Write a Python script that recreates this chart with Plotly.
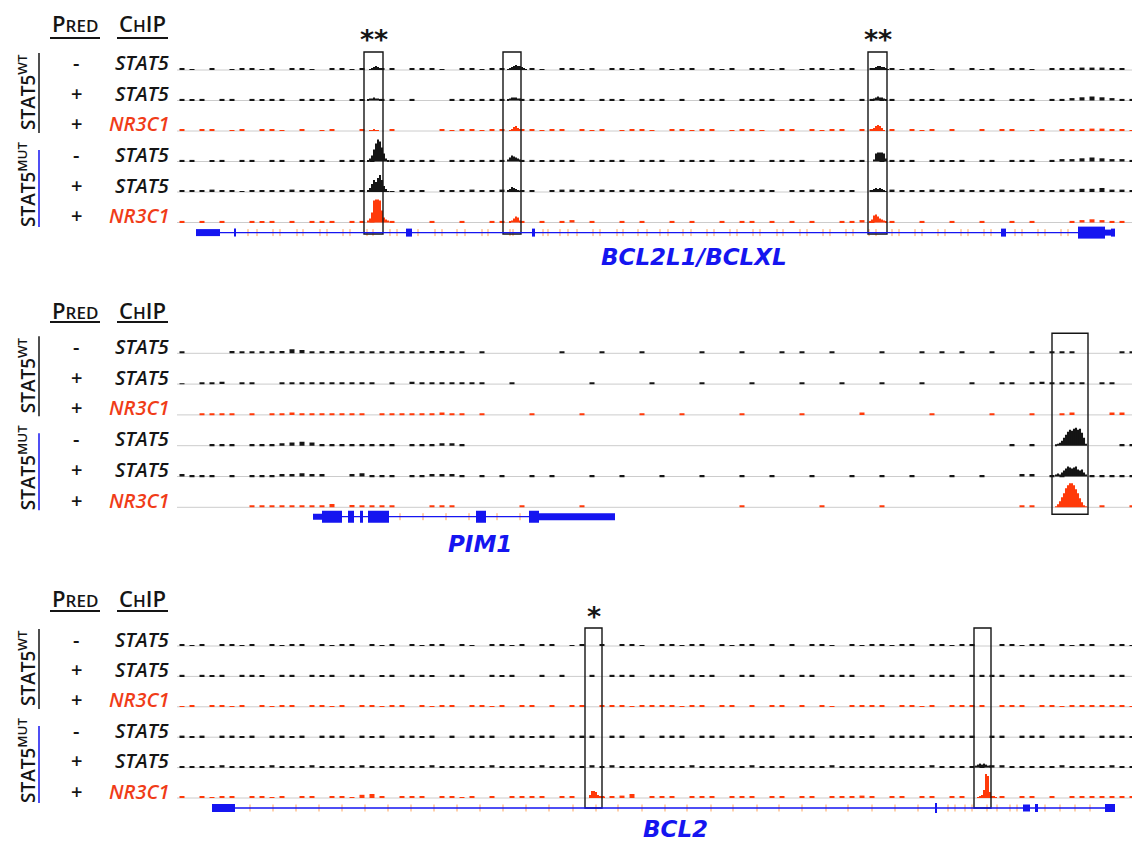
import plotly.graph_objects as go

W, H = 1140, 847

# ---------------- data ----------------
pred_labels = ["-", "+", "+", "-", "+", "+"]
chip_labels = ["STAT5", "STAT5", "NR3C1", "STAT5", "STAT5", "NR3C1"]
gene_names = ["BCL2L1/BCLXL", "PIM1", "BCL2"]
BIN = 10  # background bin size (genomic units)

# ---- Panel 1: BCL2L1 background signal (96 bins) ----
p1_bg = [
    [2,1,0,2,0,1,2,2,1,2,0,2, 2,1,0,2,2,1,2,0,2,2,0,2, 2,2,1,0,2,2,1,2,2,0,2,2, 1,0,2,2,1,2,0,2,2,1,2,0,
     2,1,2,2,0,2,1,2,0,2,2,1, 2,0,1,2,2,1,2,2,0,2,0,2, 1,2,2,1,0,2,0,2,1,2,0,2, 2,1,0,2,2,2,3,3,3,2,2,0],
    [2,1,2,0,2,2,0,2,1,2,2,0, 2,2,1,2,0,2,1,0,2,2,0,2, 0,0,0,2,2,1,2,2,2,0,2,2, 2,1,2,2,2,0,2,2,1,0,2,2,
     2,0,2,0,1,2,2,0,2,1,2,2, 0,2,1,2,0,2,2,0,2,2,1,2, 0,2,1,2,2,0,2,1,2,2,0,2, 1,2,0,2,2,3,4,5,4,3,2,2],
    [2,0,2,2,0,1,2,0,2,2,1,0, 2,0,1,2,0,0,2,1,0,2,0,0, 0,0,2,1,2,2,1,2,2,0,2,2, 1,2,2,0,2,1,2,0,1,2,2,1,
     0,2,2,1,2,2,0,1,2,2,1,0, 2,2,0,2,1,2,2,0,2,2,1,2, 0,2,1,2,0,2,0,0,2,0,2,2, 0,1,2,0,2,2,2,3,3,2,2,1],
    [2,2,0,1,2,0,2,2,0,2,2,0, 2,2,2,0,2,2,1,2,0,2,2,1, 2,2,0,2,2,1,2,2,2,0,2,2, 1,2,2,2,0,2,1,2,2,0,2,2,
     2,0,2,2,1,2,0,2,2,2,0,2, 2,1,2,0,2,2,2,1,2,0,2,2, 2,2,0,2,2,1,2,0,2,2,0,2, 2,2,0,2,3,3,4,5,4,3,3,2],
    [2,2,2,3,2,2,1,2,2,2,2,3, 2,2,3,2,2,2,2,3,2,1,2,2, 2,0,2,2,2,3,2,2,3,2,2,2, 0,2,3,3,2,2,3,2,2,3,2,2,
     2,3,2,2,2,2,2,3,2,2,3,2, 0,2,2,3,2,2,2,2,0,2,2,3, 2,2,2,3,2,2,3,2,2,2,3,2, 2,3,2,2,3,3,4,4,5,3,3,2],
    [2,0,2,0,2,0,0,2,1,2,0,2, 0,2,2,2,0,2,2,3,0,2,0,0, 0,2,0,0,2,0,0,2,2,0,2,0, 2,0,2,3,0,2,0,0,2,0,2,0,
     0,2,0,2,0,0,2,0,2,2,0,2, 0,2,0,2,0,0,2,2,3,2,0,2, 0,0,2,0,0,2,0,0,2,0,0,2, 0,2,0,0,0,2,3,4,3,2,2,0],
]
# peaks: (track, start position, heights in 2-unit steps)
p1_peaks = [
    (0, 192, [1,2,3,4,3,2,1]),
    (1, 190, [1,2,2,3,2,2,1,1]),
    (2, 192, [1,1,2,1,1]),
    (3, 190, [1,3,6,12,18,22,20,14,8,3,1]),
    (4, 190, [2,4,8,12,10,14,17,12,6,3,1]),
    (5, 190, [2,4,10,22,23,23,22,12,5,3,2]),
    (0, 330, [1,2,3,4,5,4,4,3,2,1]),
    (1, 330, [1,2,3,3,3,2,2,1]),
    (2, 332, [1,2,4,5,3,2,1]),
    (3, 330, [2,4,6,5,4,3,2,1]),
    (4, 330, [2,3,5,4,3,2,1]),
    (5, 332, [1,2,4,6,5,2,1]),
    (0, 694, [1,2,3,4,4,3,3,2,1]),
    (1, 694, [1,2,3,4,3,3,2,1]),
    (2, 694, [1,3,5,6,5,3,1]),
    (3, 696, [2,8,9,9,9,8,3]),
    (4, 694, [1,3,4,3,4,3,2,1]),
    (5, 692, [1,3,7,8,6,4,3,2,1]),
]
p1_boxes = [(187, 206), (326, 344), (691, 710)]
p1_box_y = (18, -164)
p1_stars = [(0, "**"), (2, "**")]
# gene model: (start, end, height)
p1_exons = [(19, 43, 7), (57, 59, 8), (229, 235, 8), (355, 358, 8), (824, 829, 8),
            (901, 928, 12), (928, 934, 6), (934, 938, 8)]
p1_intron = (19, 938)
p1_ticks = [71, 80, 96, 103, 120, 126, 143, 150, 166, 173, 190, 196, 213, 220, 241, 258, 265,
            280, 288, 305, 311, 333, 336, 366, 371, 383, 391, 400, 416, 423, 440, 446, 461, 470,
            483, 491, 506, 514, 530, 537, 553, 560, 576, 583, 600, 606, 623, 630, 646, 653, 669,
            676, 692, 699, 715, 722, 738, 745, 761, 768, 784, 791, 807, 814, 838, 845, 861, 868,
            884, 891]

# ---- Panel 2: PIM1 ----
p2_bg = [
    [2,0,0,0,0,3,2,2,2,2,3,5, 4,2,2,3,2,2,2,2,2,2,2,2, 2,3,3,2,2,0,2,0,0,0,0,0, 0,0,2,0,0,0,2,0,0,0,2,0,
     0,0,0,0,2,0,0,0,2,0,0,0, 2,0,2,0,0,2,0,0,0,0,2,0, 0,0,2,0,2,0,2,0,0,2,0,0, 0,2,0,2,2,2,0,0,0,0,2,2],
    [1,0,2,2,3,0,2,2,0,0,2,2, 2,2,2,2,2,2,2,2,0,2,0,3, 2,2,2,2,2,2,2,0,0,2,0,0, 0,0,0,0,0,2,0,0,0,0,0,2,
     0,0,0,0,2,0,0,0,0,2,0,0, 0,0,2,0,0,0,2,0,0,0,2,0, 0,0,2,0,0,0,0,2,0,0,2,2, 0,2,3,2,2,2,2,0,2,2,0,0],
    [0,0,2,2,2,2,0,2,0,2,2,3, 2,2,2,2,2,2,2,0,2,2,2,2, 2,2,3,2,2,0,2,0,0,0,0,2, 0,0,0,0,2,0,0,0,0,0,2,0,
     0,0,2,0,0,0,0,0,2,0,0,0, 0,0,2,0,0,0,0,0,3,0,0,0, 0,0,0,2,0,0,0,0,0,2,0,0, 0,2,0,0,2,3,0,0,0,3,3,0],
    [0,0,0,2,2,2,0,2,2,2,3,4, 5,4,2,2,2,2,2,2,2,2,0,2, 2,2,3,3,2,0,0,0,0,0,0,0, 0,0,0,0,0,0,0,0,0,0,0,0,
     0,0,0,0,0,0,0,0,0,0,0,0, 0,0,0,0,0,0,0,0,0,0,0,0, 0,0,0,0,0,0,0,0,0,0,0,2, 0,2,0,0,0,0,0,0,0,0,2,2],
    [3,2,2,2,0,2,0,2,2,2,3,3, 4,3,3,0,0,3,4,2,2,2,0,2, 2,3,3,3,2,0,2,0,2,0,0,2, 0,2,0,0,0,2,0,0,2,0,0,0,
     2,0,0,0,2,0,0,0,2,0,0,2, 0,0,0,2,0,0,0,2,0,0,2,0, 0,2,0,0,0,2,0,0,2,0,0,0, 3,3,0,2,2,0,0,2,2,2,2,2],
    [0,0,0,0,0,0,0,2,2,2,2,2, 2,2,2,4,0,3,2,2,2,2,0,0, 0,2,2,2,0,0,0,0,0,0,2,0, 0,0,0,0,2,0,0,0,0,0,0,0,
     0,0,0,0,0,0,0,0,2,0,0,0, 0,0,0,0,2,0,0,0,0,0,2,0, 0,0,0,0,0,0,0,0,0,0,0,0, 2,2,0,0,0,0,0,0,2,0,0,2],
]
p2_peaks = [
    (3, 878, [1,2,3,5,8,11,14,16,15,17,18,16,17,13,8,2]),
    (4, 878, [2,3,2,4,6,8,10,9,8,9,10,7,6,7,4,2]),
    (5, 878, [1,3,6,10,14,19,22,24,24,22,18,14,9,5,2,1]),
]
p2_boxes = [(875, 911)]
p2_box_y = (20, -161)
p2_stars = []
p2_exons = [(136, 145, 6), (145, 165, 12), (171, 177, 12), (183, 186, 12), (191, 212, 12),
            (299, 309, 12), (352, 362, 12), (362, 438, 7)]
p2_intron = (136, 438)
p2_ticks = [223, 246, 269, 292, 320, 343]

# ---- Panel 3: BCL2 ----
p3_bg = [
    [2,1,2,0,2,2,1,2,0,2,1,2, 2,0,2,1,2,2,0,2,1,2,0,2, 1,2,2,0,2,1,0,2,2,1,2,0, 2,2,0,1,2,0,2,0,2,2,1,0,
     2,2,1,2,2,0,2,1,2,2,0,2, 0,2,0,2,2,1,0,2,1,2,2,1, 2,2,0,2,2,1,2,2,0,0,2,2, 1,2,2,0,2,1,2,2,0,2,2,1],
    [2,0,2,1,2,0,2,2,1,0,2,2, 0,2,1,2,0,2,2,0,1,2,0,2, 2,1,0,2,2,0,0,2,1,2,0,0, 2,0,2,0,0,2,0,2,2,2,0,2,
     2,2,0,2,1,2,0,0,2,2,0,0, 2,0,2,2,0,0,2,2,0,0,2,2, 2,2,0,2,2,2,0,2,2,2,2,0, 2,2,0,2,2,1,2,2,0,2,2,0],
    [1,2,0,2,2,1,2,0,2,1,2,2, 0,2,2,1,2,0,2,2,1,2,2,0, 2,1,2,2,0,2,2,1,2,0,2,2, 0,2,0,2,2,0,2,2,2,1,2,2,
     2,2,1,2,2,0,2,2,0,2,0,2, 2,0,2,0,2,1,0,2,2,2,2,0, 2,2,1,2,0,2,2,2,2,0,2,2, 2,0,2,2,1,2,2,2,2,2,2,1],
    [2,1,2,0,2,2,1,2,0,2,2,1, 2,0,2,2,2,0,2,1,2,0,2,2, 1,2,0,2,0,2,2,2,0,2,2,1, 2,2,0,2,2,2,0,2,2,0,2,0,
     2,2,2,0,2,2,2,0,2,2,2,2, 0,2,2,2,0,2,2,2,1,2,0,2, 2,2,2,0,2,2,2,2,0,2,2,0, 2,2,2,0,2,2,2,0,2,2,2,1],
    [2,2,2,2,3,2,2,2,2,3,2,2, 2,3,2,2,2,2,3,2,2,2,2,2, 2,3,2,2,2,2,2,3,2,2,2,2, 3,2,2,2,2,3,2,3,2,2,2,2,
     2,2,2,3,2,2,2,2,2,3,2,2, 2,2,2,2,2,3,2,2,2,2,2,2, 2,2,2,3,2,2,2,2,2,3,3,2, 2,2,2,2,3,2,2,2,2,3,2,2],
    [2,0,2,1,2,2,0,2,2,1,2,0, 2,2,0,2,2,1,4,5,2,0,2,2, 2,0,2,2,1,2,0,2,0,2,2,2, 2,0,2,2,0,0,2,2,3,5,0,2,
     2,2,0,2,2,2,0,2,2,2,0,2, 2,0,2,2,0,2,2,2,3,2,0,2, 2,0,2,2,0,2,2,0,2,2,2,0, 2,2,0,2,0,2,2,2,2,2,2,2],
]
p3_peaks = [
    (5, 412, [3,7,7,6,3,2,2,1]),
    (5, 800, [1,2,3,8,24,22,6,2,2,1]),
    (4, 798, [2,3,4,3,4,3,2,2]),
]
p3_boxes = [(408, 425), (797, 814)]
p3_box_y = (18, -162)
p3_stars = [(0, "*")]
p3_exons = [(35, 58, 8), (758, 760, 10), (846, 853, 7), (858, 861, 8), (928, 938, 8)]
p3_intron = (35, 938)
p3_ticks = [73, 96, 119, 142, 165, 188, 211, 234, 257, 280, 303, 326, 349, 372, 396, 419, 441,
            465, 488, 510, 534, 556, 580, 602, 625, 649, 671, 695, 718, 741, 771, 778, 788, 795,
            810, 820, 833, 840, 868, 883, 898, 913]

# ---------------- style / layout ----------------
BLACK = "#151515"
RED = "#ff3a0a"
RED_TXT = "#f03c18"
BLUE = "#1515f0"
GRAY = "#cccccc"
X0_PX, X1_PX, XMAX = 177, 1132, 955
TOP, BOT = 36, 200
BG_SCALE = 0.8
track_colors = [BLACK, BLACK, RED, BLACK, BLACK, RED]

panels = [
    dict(bg=p1_bg, peaks=p1_peaks, boxes=p1_boxes, box_y=p1_box_y, stars=p1_stars,
         exons=p1_exons, intron=p1_intron, ticks=p1_ticks, base=70.0, sp=30.5, gene_off=162.6,
         head=23, uline=38, label_xy=(517, -187)),
    dict(bg=p2_bg, peaks=p2_peaks, boxes=p2_boxes, box_y=p2_box_y, stars=p2_stars,
         exons=p2_exons, intron=p2_intron, ticks=p2_ticks, base=353.3, sp=30.8, gene_off=163.4,
         head=310, uline=322, label_xy=(303, -191)),
    dict(bg=p3_bg, peaks=p3_peaks, boxes=p3_boxes, box_y=p3_box_y, stars=p3_stars,
         exons=p3_exons, intron=p3_intron, ticks=p3_ticks, base=646.0, sp=30.4, gene_off=162.0,
         head=598, uline=611, label_xy=(498, -183)),
]


def pxx(px):
    return px / W


def pxy(py):
    return 1 - py / H


fig = go.Figure()
shapes = []
annotations = []
layout_axes = {}

TXT = dict(family="Open Sans", color=BLACK)


def pann(x, y, text, font, **kw):
    d = dict(xref="paper", yref="paper", x=pxx(x), y=pxy(y), text=text, showarrow=False,
             xanchor="center", yanchor="middle", font=font)
    d.update(kw)
    annotations.append(d)


for k, P in enumerate(panels):
    sfx = "" if k == 0 else str(k + 1)
    xa, ya = "x" + sfx, "y" + sfx
    base, sp = P["base"], P["sp"]
    layout_axes["xaxis" + sfx] = dict(domain=[pxx(X0_PX), pxx(X1_PX)], range=[0, XMAX],
                                      visible=False, fixedrange=True, anchor=ya)
    layout_axes["yaxis" + sfx] = dict(domain=[pxy(base + BOT), pxy(base - TOP)], range=[-BOT, TOP],
                                      visible=False, fixedrange=True, anchor=xa)
    # baselines
    for i in range(6):
        shapes.append(dict(type="line", xref=xa, yref=ya, x0=0, x1=XMAX, y0=-i * sp, y1=-i * sp,
                           line=dict(color=GRAY, width=1), layer="below"))
    # background signal
    for i, vals in enumerate(P["bg"]):
        xs = [BIN * j + BIN / 2 for j in range(len(vals))]
        fig.add_trace(go.Bar(x=xs, y=[v * BG_SCALE for v in vals], base=-i * sp, width=5, xaxis=xa, yaxis=ya,
                             marker=dict(color=track_colors[i], line=dict(width=0)),
                             showlegend=False, hoverinfo="skip"))
    # peaks
    for (ti, start, hts) in P["peaks"]:
        xs = [start + 2 * j + 1 for j in range(len(hts))]
        fig.add_trace(go.Bar(x=xs, y=hts, base=-ti * sp, width=2.05, xaxis=xa, yaxis=ya,
                             marker=dict(color=track_colors[ti], line=dict(width=0)),
                             showlegend=False, hoverinfo="skip"))
    # boxes
    for (b0, b1) in P["boxes"]:
        shapes.append(dict(type="rect", xref=xa, yref=ya, x0=b0, x1=b1,
                           y0=P["box_y"][1], y1=P["box_y"][0],
                           line=dict(color=BLACK, width=1.4), fillcolor="rgba(0,0,0,0)"))
    for (bi, txt) in P["stars"]:
        b0, b1 = P["boxes"][bi]
        annotations.append(dict(xref=xa, yref=ya, x=(b0 + b1) / 2, y=P["box_y"][0] + 12,
                                text="<b>" + txt + "</b>", showarrow=False,
                                xanchor="center", yanchor="middle",
                                font=dict(family="DejaVu Sans", size=27, color=BLACK)))
    # gene model
    g = -P["gene_off"]
    shapes.append(dict(type="line", xref=xa, yref=ya, x0=P["intron"][0], x1=P["intron"][1],
                       y0=g, y1=g, line=dict(color=BLUE, width=1.3)))
    for (e0, e1, h) in P["exons"]:
        shapes.append(dict(type="rect", xref=xa, yref=ya, x0=e0, x1=e1, y0=g - h / 2, y1=g + h / 2,
                           fillcolor=BLUE, line=dict(width=0)))
    fig.add_trace(go.Scatter(x=P["ticks"], y=[g] * len(P["ticks"]), mode="markers", xaxis=xa, yaxis=ya,
                             marker=dict(symbol="line-ns-open", size=5, line=dict(color=BLUE, width=1)),
                             showlegend=False, hoverinfo="skip"))
    annotations.append(dict(xref=xa, yref=ya, x=P["label_xy"][0], y=P["label_xy"][1],
                            text=gene_names[k], showarrow=False, xanchor="center", yanchor="middle",
                            font=dict(family="DejaVu Sans", size=23, color=BLUE, style="italic",
                                      weight="bold")))

    # left-side labels
    pann(75, P["head"], "P<span style='font-size:17px'>RED</span>", dict(TXT, size=22, weight=600))
    pann(142, P["head"], "C<span style='font-size:17px'>H</span>IP", dict(TXT, size=22, weight=600))
    shapes.append(dict(type="line", xref="paper", yref="paper", x0=pxx(50), x1=pxx(100),
                       y0=pxy(P["uline"]), y1=pxy(P["uline"]), line=dict(color=BLACK, width=2)))
    shapes.append(dict(type="line", xref="paper", yref="paper", x0=pxx(117), x1=pxx(168),
                       y0=pxy(P["uline"]), y1=pxy(P["uline"]), line=dict(color=BLACK, width=2)))
    for i in range(6):
        yy = base + i * sp - 7
        pann(76, yy, pred_labels[i], dict(TXT, size=20, weight=600))
        col = RED_TXT if chip_labels[i] == "NR3C1" else BLACK
        pann(171, yy, chip_labels[i],
             dict(family="Open Sans", size=20, color=col, style="italic", weight=600), xanchor="right")
    # genotype labels
    pann(27, base + 22, "STAT5<sup>WT</sup>", dict(TXT, size=19, weight=600), textangle=-90)
    pann(27, base + 115, "STAT5<sup>MUT</sup>", dict(TXT, size=19, weight=600), textangle=-90)
    shapes.append(dict(type="line", xref="paper", yref="paper", x0=pxx(39), x1=pxx(39),
                       y0=pxy(base - 17), y1=pxy(base + 63), line=dict(color=BLACK, width=1.5)))
    shapes.append(dict(type="line", xref="paper", yref="paper", x0=pxx(39), x1=pxx(39),
                       y0=pxy(base + 80), y1=pxy(base + 157), line=dict(color=BLUE, width=1.5)))

fig.update_layout(width=W, height=H, margin=dict(l=0, r=0, t=0, b=0), barmode="overlay",
                  paper_bgcolor="white", plot_bgcolor="white", shapes=shapes, annotations=annotations,
                  showlegend=False, **layout_axes)
fig.write_html("out.html")
